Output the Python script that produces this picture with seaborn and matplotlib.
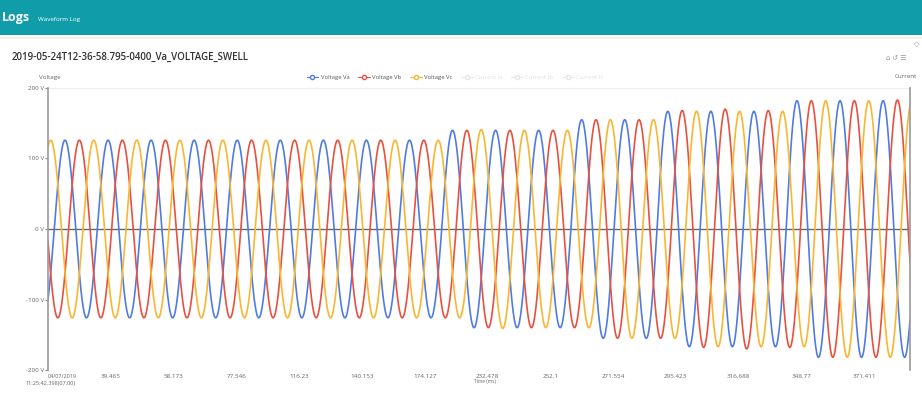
import numpy as np
import pandas as pd
import matplotlib
matplotlib.use('Agg')
import matplotlib.pyplot as plt
import seaborn as sns
from matplotlib.patches import Rectangle
from matplotlib.lines import Line2D

# waveform parameters read from the capture (60 Hz, 20 cycles on screen)
phases = ['Voltage Va', 'Voltage Vb', 'Voltage Vc']
peak_offset = [0.395, 0.728, 0.062]   # position of first peak, in cycles
# peak voltage of every cycle (V), per phase
amp_va = [126, 126, 126, 126, 126, 126, 126, 126, 126, 140, 140, 140, 155, 155, 167, 167, 167, 182, 182, 182]
amp_vb = [126, 126, 126, 126, 126, 126, 126, 126, 126, 140, 140, 140, 155, 155, 168, 170, 168, 182, 182, 183]
amp_vc = [126, 126, 126, 126, 126, 126, 126, 126, 126, 126, 141, 140, 140, 155, 155, 167, 167, 167, 182, 182]
colors = ['#4f7be3', '#e8503f', '#f9b630']

period_ms = 1000 / 60
n_cycles = 20.02
tick_labels = ['39.465', '58.173', '77.546', '116.23', '140.153', '174.127', '232.478',
               '252.1', '271.554', '295.423', '316.688', '348.77', '371.411']
tick_step = 24.3
legend_off = ['Current Ia', 'Current Ib', 'Current Ic']

# build long table
c = np.linspace(0, n_cycles, 1600)
rows = []
for name, p, amps in zip(phases, peak_offset, [amp_va, amp_vb, amp_vc]):
    k = np.clip(np.floor(c - p + 0.25).astype(int), 0, len(amps) - 1)
    v = np.array(amps)[k] * np.cos(2 * np.pi * (c - p))
    rows.append(pd.DataFrame({'t': c * period_ms, 'v': v, 'phase': name}))
df = pd.concat(rows, ignore_index=True)

sns.set_style('white')
plt.rcParams['font.family'] = ['Open Sans', 'DejaVu Sans']

fig = plt.figure(figsize=(9.22, 4.05), dpi=100)
W, H = 922, 405

# header bar
fig.patches.append(Rectangle((0, 1 - 35 / H), 1, 35 / H, transform=fig.transFigure,
                             facecolor='#109ca9', edgecolor='none', zorder=0))
fig.patches.append(Rectangle((0, 1 - 39 / H), 1, 2 / H, transform=fig.transFigure,
                             facecolor='#f5ecec', edgecolor='none', zorder=0))
fig.text(2 / W, 1 - 18 / H, 'Logs', color='white', fontsize=9, fontweight='bold', va='center')
fig.text(38 / W, 1 - 19 / H, 'Waveform Log', color='white', fontsize=4.5, va='center')
fig.text(12 / W, 1 - 57 / H, '2019-05-24T12-36-58.795-0400_Va_VOLTAGE_SWELL',
         color='#333333', fontsize=7, fontweight='semibold', va='center')
fig.text(914 / W, 1 - 45 / H, '\u25c7', color='#888888', fontsize=5, va='center')
fig.text(886 / W, 1 - 58 / H, '\u2302 \u21ba \u2630', color='#999999', fontsize=5, va='center')

ax = fig.add_axes([48 / W, 1 - 370 / H, 862 / W, 282 / H])
sns.lineplot(data=df, x='t', y='v', hue='phase', palette=colors, estimator=None,
             sort=False, linewidth=1.2, ax=ax, legend=False)
ax.axhline(0, color='#666666', linewidth=1, zorder=0.5)

ax.set_xlim(0, n_cycles * period_ms)
ax.set_ylim(-200, 200)
ax.set_yticks([200, 100, 0, -100, -200])
ax.set_yticklabels(['200 V', '100 V', '0 V', '-100 V', '-200 V'])
ax.set_xticks(np.arange(1, len(tick_labels) + 1) * tick_step)
ax.set_xticklabels(tick_labels)
ax.tick_params(axis='y', labelsize=4.5, labelcolor='#666666', length=2, pad=1, color='#888888', left=True)
ax.tick_params(axis='x', labelsize=4.5, labelcolor='#666666', length=0, pad=3)
ax.set_xlabel('')
ax.set_ylabel('')
for s in ['top', 'bottom']:
    ax.spines[s].set_visible(False)
ax.spines['left'].set_color('#999999')
ax.spines['right'].set_color('#999999')
ax.spines['left'].set_linewidth(1.2)
ax.spines['right'].set_linewidth(1.2)
ax.plot([0, 1], [1, 1], transform=ax.transAxes, color='#eeeeee', linewidth=0.8, clip_on=False)

fig.text(50 / W, 1 - 77 / H, 'Voltage', fontsize=4.5, color='#666666', ha='center', va='center')
fig.text(906 / W, 1 - 77 / H, 'Current', fontsize=4.5, color='#666666', ha='center', va='center')
fig.text(485 / W, 1 - 381 / H, 'Time (ms)', fontsize=3.5, color='#666666', ha='center', va='center')
fig.text(62 / W, 1 - 377 / H, '04/07/2019', fontsize=4, color='#666666', ha='center', va='center')
fig.text(50 / W, 1 - 383 / H, '11:25:42.398(07:00)', fontsize=4, color='#666666', ha='center', va='center')

handles = [Line2D([], [], color=col, marker='o', markersize=3, markerfacecolor='white',
                  linewidth=0.8) for col in colors]
handles += [Line2D([], [], color='#e6e6e6', marker='o', markersize=3, markerfacecolor='white',
                   linewidth=0.8) for _ in legend_off]
leg = fig.legend(handles, phases + legend_off, loc='center', bbox_to_anchor=(455 / W, 1 - 77 / H),
                 ncol=6, fontsize=4.2, frameon=False, handlelength=2, columnspacing=1.5, handletextpad=0.4)
for i, t in enumerate(leg.get_texts()):
    t.set_color('#555555' if i < 3 else '#e0e0e0')

fig.savefig('out.png', dpi=100)
